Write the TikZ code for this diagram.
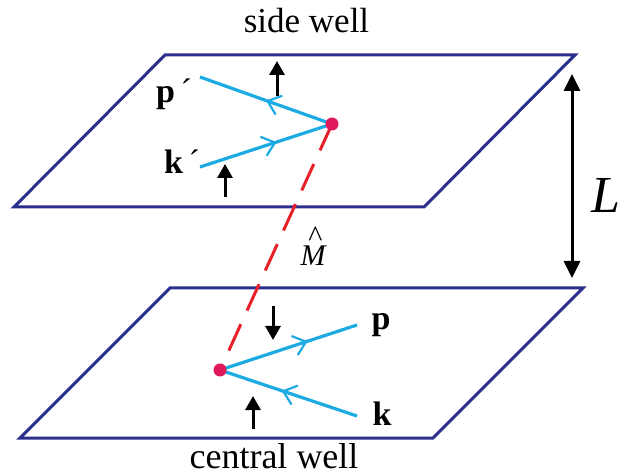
\documentclass[tikz,border=0pt]{standalone}
\usepackage{fontspec}
\setmainfont{Liberation Serif}
\usetikzlibrary{arrows.meta,decorations.markings}
\definecolor{navy}{HTML}{2B2E8C}
\definecolor{cyanline}{HTML}{1CAAE2}
\definecolor{reddash}{HTML}{E8202A}
\definecolor{dotred}{HTML}{E0195A}
\tikzset{
  plane/.style={draw=navy, line width=3pt, line join=miter},
  leg/.style={draw=cyanline, line width=3.2pt},
  midarrow/.style={postaction={decorate}, decoration={markings,
     mark=at position #1 with {\arrow[cyanline, line width=2.2pt]{Straight Barb[length=12pt,width=20pt]}}}},
  spinarrow/.style={draw=black, line width=3pt, -{Triangle[length=14pt,width=15pt]}},
  vdot/.style={circle, fill=dotred, inner sep=0pt, minimum size=13pt},
  lbl/.style={font=\fontsize{34}{36}\selectfont, inner sep=0pt},
}
\begin{document}
\begin{tikzpicture}[x=1pt,y=-1pt]
\useasboundingbox (0,0) rectangle (633,476);
% planes
\draw[plane] (165,55) -- (575,55) -- (424,207) -- (14,207) -- cycle;
\draw[plane] (170,288) -- (583,288) -- (433,438) -- (20,438) -- cycle;
% vertices
\coordinate (vt) at (332,124);
\coordinate (vb) at (220,370);
% red dashed
\draw[reddash, line width=3pt, dash pattern=on 29pt off 15pt] (vt) -- (vb);
% top legs
\coordinate (pe) at (200,77);
\coordinate (ke) at (200,167);
\draw[leg, midarrow=0.5] (vt) -- (pe);
\draw[leg, midarrow=0.58] (ke) -- (vt);
% bottom legs
\coordinate (pb) at (357,325);
\coordinate (kb) at (357,416);
\draw[leg, midarrow=0.64] (vb) -- (pb);
\draw[leg, midarrow=0.55] (kb) -- (vb);
\node[vdot] (dt) at (vt) {};
\node[vdot] (db) at (vb) {};
% spin arrows
\coordinate (a1s) at (277,96); \coordinate (a1e) at (277,61);
\coordinate (a2s) at (225,197); \coordinate (a2e) at (225,164);
\coordinate (a3s) at (273,306); \coordinate (a3e) at (273,340);
\coordinate (a4s) at (253,429); \coordinate (a4e) at (253,396);
\draw[spinarrow] (a1s) -- (a1e);
\draw[spinarrow] (a2s) -- (a2e);
\draw[spinarrow] (a3s) -- (a3e);
\draw[spinarrow] (a4s) -- (a4e);
% L arrow
\coordinate (Lt) at (572,74);
\coordinate (Lb) at (572,278);
\draw[line width=3pt, {Triangle[length=17pt,width=16pt]}-{Triangle[length=17pt,width=16pt]}] (Lt) -- (Lb);
% labels
\node[lbl, anchor=base] (lp1) at (174,103) {\textbf{p}\,´};
\node[lbl, anchor=base] (lk1) at (182,174) {\textbf{k}\,´};
\node[lbl, anchor=base] (lp) at (381,330) {\textbf{p}};
\node[lbl, anchor=base] (lk) at (382,425) {\textbf{k}};
\node[lbl, anchor=base, font=\fontsize{30}{32}\selectfont] (lM) at (313,266)
  {\ooalign{\itshape M\cr\hidewidth\kern5pt\raisebox{19pt}{\^{}}\hidewidth\cr}};
\node[lbl, anchor=base, font=\fontsize{52}{56}\selectfont\itshape] (lL) at (606,213) {L};
\node[lbl, anchor=base, font=\fontsize{35}{38}\selectfont] (top) at (306.5,33) {side well};
\node[lbl, anchor=base, font=\fontsize{36}{38}\selectfont] (bot) at (274,468) {central well};
\end{tikzpicture}
\end{document}
